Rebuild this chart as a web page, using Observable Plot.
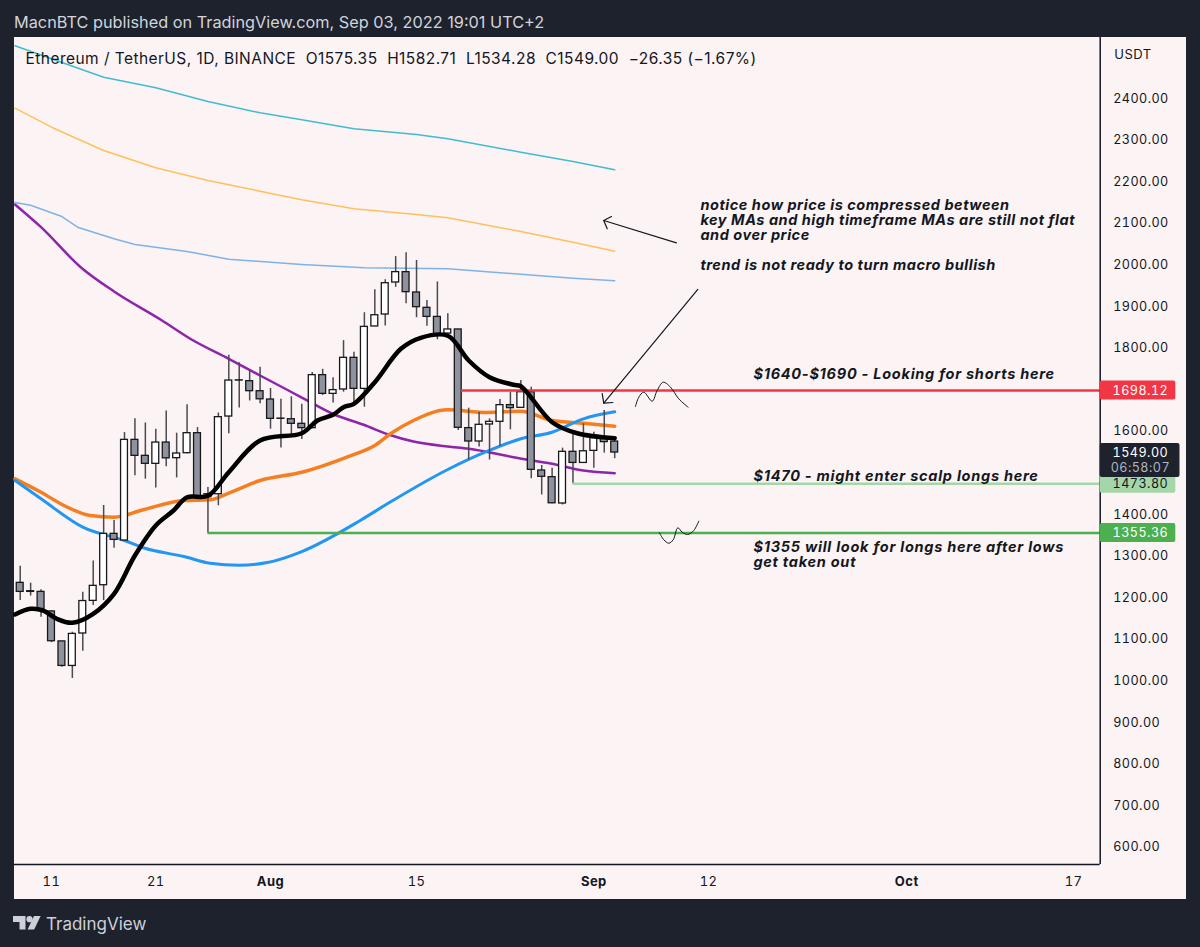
<!DOCTYPE html>
<html><head><meta charset="utf-8">
<script src="https://cdn.jsdelivr.net/npm/d3@7"></script>
<script src="https://cdn.jsdelivr.net/npm/@observablehq/plot@0.6"></script>
<style>
html,body{margin:0;padding:0;background:#1E222D;width:1200px;height:947px;overflow:hidden;font-family:Inter,sans-serif}
#head{height:37px;box-sizing:border-box;padding:14px 0 0 14px;font-size:16.3px;line-height:17px;color:#D1D4DC;white-space:nowrap}
#panel{margin-left:14px;width:1172px;height:862px;background:#FCF3F4}
#panel svg{display:block;background:transparent;overflow:visible}
#panel svg text{letter-spacing:.45px}
#panel svg g[font-size="14.5"] text{letter-spacing:.53px}
#panel svg g[font-size="14.51"] text{letter-spacing:.74px}
#foot{height:48px;position:relative;color:#CDD0D8;font-size:17px}
#foot svg{position:absolute;left:13px;top:17px}
#foot span{position:absolute;left:46px;top:15px}
</style></head><body>
<div id="head">MacnBTC published on TradingView.com, Sep 03, 2022 19:01 UTC+2</div>
<div id="panel"></div>
<div id="foot"><svg width="28" height="14" viewBox="0 0 28 14" fill="#CDD0D8"><path d="M0 0h12.5v13.5h-6v-7.5H0z"/><circle cx="16.5" cy="3.2" r="3.1"/><path d="M21 0h6.6l-6.4 13.5h-6.6z"/></svg><span>TradingView</span></div>
<script>
// Candles, daily from 2022-07-08 to 2022-09-03
const opens  = [1235.7,1215.6,1214,1167,1095,1036,1114,1192.4,1230,1353.5,1337.5,1579.4,1541,1521.8,1573,1535.4,1547.4,1595.5,1441.6,1448.8,1635.5,1722.5,1720.5,1696.4,1676.4,1630.5,1629,1618,1607.6,1735,1690,1700.5,1776.6,1702,1852,1880.8,1957.7,1982.6,1933.7,1896.8,1875,1835,1844.8,1607.6,1575.5,1616.4,1622.8,1662.9,1656.4,1694,1505.8,1489.8,1426.5,1550.7,1524,1553,1583.5,1575.35];
const highs  = [1275.8,1235,1219,1169,1095,1117,1213,1288,1421.6,1385.5,1597,1630,1620,1605,1649,1595.5,1664,1609,1465,1644,1783,1764.5,1746,1754,1703,1677,1683,1665,1741.4,1749,1729,1818,1790,1885,1940,1964,2020,2029,2010.6,1914.5,1959,1882.4,1844.8,1655.6,1646,1630,1676.5,1694,1722,1706,1517.8,1511.4,1559.5,1594,1618,1598,1650,1582.71];
const lows   = [1193,1204,1153,1092,1033,1006,1071,1181,1193,1319,1337,1493,1485,1464,1515,1488,1546,1441,1355.36,1421,1594,1656,1673,1666,1605,1560,1590,1580,1606,1686,1668,1694,1666,1658,1852,1853,1946,1906.5,1873,1852.8,1820,1830,1602,1531.4,1562,1531,1563.5,1603.6,1655.6,1486,1447,1425.7,1423,1473.8,1524,1511.4,1547.5,1534.28];
const closes = [1214,1214,1173,1095.4,1036,1113,1192,1228.5,1353.5,1339,1579.4,1541,1521.8,1573,1535,1546.6,1595.5,1441.6,1448.8,1634,1722,1722,1696.4,1677,1630,1630,1618,1607.6,1735,1690,1699,1776.6,1702,1851,1879,1956,1982.6,1934.5,1898.4,1875,1832,1844.8,1608.4,1575.5,1615.6,1622.8,1662.9,1655.6,1694,1507.4,1490.6,1427,1550.7,1524,1552,1583.5,1574,1549];

// Moving averages: day offset from Jul 11, then price
const ma200Days = [-3.5,0,5,10,15,20,24,29,35,38,45,50,54];
const ma200Teal = [2526.7,2495.4,2451.2,2425.7,2392.8,2365.6,2348.8,2327.2,2313.5,2303.1,2270.9,2248.6,2228.6];
const ma150Gold = [2376.7,2331,2275,2233.4,2203,2177.2,2156.5,2135,2121.2,2113.2,2080.3,2054.6,2033];
const ma100Days = [-3.5,-2,1,2.5,6,8,13,17,24,30,38,45,50,54];
const ma100Sky  = [2150,2143.5,2116.3,2090.6,2062.7,2049,2032.2,2013.7,2001,1993,1990.6,1977.6,1968,1961.8];
const purpleDays = [-3.5,-1,2.8,6,10.6,13.3,17,20,24,27,30,32.3,34.7,38,40,44.3,48,51,54];
const purpleVals = [2145.2,2090.6,1994.5,1936.1,1866.3,1822.4,1774.3,1734.1,1681.2,1641.6,1615.1,1592.3,1575.5,1563.5,1558,1537.7,1521.9,1505.8,1499.3];
const orangeDays = [-3.5,-1,1.2,3.7,6,8.8,12.7,15.2,17,20,24,28.7,31,32.5,34.7,38,41.8,45,48,51,54];
const orangeVals = [1485.8,1453.6,1421.6,1397.6,1393.5,1411.3,1433.7,1435.3,1451.2,1481.7,1501.7,1541.8,1565.9,1594,1626,1651.7,1645.2,1648.3,1626,1619.5,1612.3];
const blueDays = [-3.5,-1,3,7,8.8,12.7,15.2,18,20.7,24,29.6,32.2,38,41.8,45,48,51,54];
const blueVals = [1481.7,1437.7,1369.5,1337.5,1320,1299.1,1283,1278.1,1284.6,1311,1385.6,1425.7,1508.2,1552.2,1582,1597.8,1630,1646.9];
const blackDays = [-3.5,-2,-0.8,0.5,2,4,6,8,10,11.7,13,15,17,20,24,25.5,27,28,29,31,33.5,35.4,38,40,42,44.3,45,48,50.4,54];
const blackVals = [1159.6,1173.3,1169.2,1149.3,1139.7,1161.3,1209.4,1301.4,1373.6,1409.6,1441.6,1445,1501.7,1577.9,1595.4,1626,1639.7,1658,1666.1,1718,1798.3,1824.8,1829.6,1770.2,1730,1711.8,1708.4,1621.9,1595.4,1583.4];

// Levels
const levelPrices = [1698.12,1473.80,1355.36];
const levelStarts = [39.3,50,15];
const levelColors = ["#F23645","#A5D6A7","#4CAF50"];
const levelText   = ["#FFFFFF","#131722","#FFFFFF"];

// Notes
const upperNotes = ["notice how price is compressed between","key MAs and high timeframe MAs are still not flat","and over price","trend is not ready to turn macro bullish"];
const upperPrices = [2142.8,2106.7,2070.7,1998.6];
const lowerNotes = ["$1640-$1690 - Looking for shorts here","$1470 - might enter scalp longs here","$1355 will look for longs here after lows","get taken out"];
const lowerPrices = [1736.5,1492,1320.7,1284.6];

// Hand-drawn marks
const arrowGroups = [
 [[59.92,2053.1],[52.95,2106.7]],
 [[53.69,2116.3],[52.95,2106.7],[53.28,2086.8]],
 [[61.97,1940.9],[52.95,1667.5]],
 [[52.8,1690.9],[52.95,1667.5],[53.82,1669.2]]
];
const squiggles = [
 [[55.99,1659.6],[56.31,1682],[56.79,1694],[57.59,1672.4],[58.07,1698.1],[58.65,1718],[59.35,1706],[60.14,1678.1],[61.04,1658]],
 [[58.29,1356],[58.71,1339.2],[59.19,1331],[59.61,1339.2],[60.05,1368],[60.47,1357.5],[61,1352],[61.58,1361.5],[62.06,1383.9]]
];

// Axis (1500 and 1700 sit under the price tags in the reference)
const priceTicks = [600,700,800,900,1000,1100,1200,1300,1400,1600,1800,1900,2000,2100,2200,2300,2400];
const plainDays = [0,10,35,63,98], plainLabels = ["11","21","15","12","17"];
const monthDays = [21,52,82], monthLabels = ["Aug","Sep","Oct"];
const legendText = "Ethereum / TetherUS, 1D, BINANCE  O1575.35  H1582.71  L1534.28  C1549.00  \u221226.35 (\u22121.67%)";

const base = Date.UTC(2022,6,11);
const T = n => new Date(base + n*864e5);
const xMin = -3.547, xMax = 100.55, tagEnd = 107.8, darkEnd = 108.2, tagMid = 104.4;
const yMin = 558.7, yMax = 2546.6, tagHalf = 22.8;

const candles = opens.map((o,i)=>({n:i-3,o,h:highs[i],l:lows[i],c:closes[i]}));
const line = (days,vals,stroke,strokeWidth,curve="linear") => Plot.line(days.map((n,i)=>({n,p:vals[i]})),{x:d=>T(d.n),y:"p",stroke,strokeWidth,curve});
const levels = levelPrices.map((p,i)=>({p,s:levelStarts[i],c:levelColors[i],t:levelText[i],lab:p.toFixed(2)}));
const ink = g => Plot.line(g.map(([n,p])=>({n,p})),{x:d=>T(d.n),y:"p",stroke:"#131722",strokeWidth:1.2,curve:"linear"});
const tag = {fontSize:12.6,fontVariant:"tabular-nums"};
const note = {text:d=>d,textAnchor:"start",fontStyle:"italic",fontWeight:700,fill:"#131722"};

const chart = Plot.plot({
  width:1172,height:862,marginLeft:0,marginRight:86.3,marginTop:0,marginBottom:35,
  style:{background:"transparent",fontFamily:"Inter, sans-serif",fontSize:"13px",color:"#131722"},
  x:{type:"utc",domain:[T(xMin),T(xMax)]},
  y:{domain:[yMin,yMax]},
  marks:[
    line(ma200Days,ma200Teal,"#41BCCF",1.5),
    line(ma200Days,ma150Gold,"#FFC05C",1.5),
    line(ma100Days,ma100Sky,"#7FB3E6",1.5),
    line(purpleDays,purpleVals,"#8E24AA",2.5,"monotone-x"),
    line(orangeDays,orangeVals,"#F57F20",3.5,"monotone-x"),
    line(blueDays,blueVals,"#2196F3",3,"monotone-x"),
    Plot.ruleX(candles,{x:d=>T(d.n),y1:"l",y2:"h",stroke:"#4A4A4F",strokeWidth:1.5}),
    Plot.rect(candles,{x1:d=>T(d.n-0.33),x2:d=>T(d.n+0.33),y1:"o",y2:"c",fill:d=>d.c<d.o?"#8E929C":"#FFFFFF",stroke:"#17181C",strokeWidth:1.3}),
    Plot.ruleY(levels,{y:"p",x1:d=>T(d.s),x2:T(xMax),stroke:"c",strokeWidth:2.5}),
    line(blackDays,blackVals,"#000000",4.5,"catmull-rom"),
    ...arrowGroups.map(ink),
    ...squiggles.map(g=>Plot.line(g.map(([n,p])=>({n,p})),{x:d=>T(d.n),y:"p",stroke:"#131722",strokeWidth:1,curve:"catmull-rom"})),
    Plot.text(upperNotes,{...note,x:T(62.22),y:(d,i)=>upperPrices[i],fontSize:14.5}),
    Plot.text(lowerNotes,{...note,x:T(67.3),y:(d,i)=>lowerPrices[i],fontSize:14.51}),
    Plot.text([legendText],{x:T(-2.49),y:2493.75,text:d=>d,textAnchor:"start",fontSize:15.5,fill:"#131722"}),
    Plot.ruleX([T(xMax)],{stroke:"#131722",strokeWidth:1.5,y1:yMin,y2:yMax}),
    Plot.ruleY([yMin],{stroke:"#131722",strokeWidth:1.5,x1:T(xMin),x2:T(xMax)}),
    Plot.axisY({anchor:"right",ticks:priceTicks,tickSize:0,tickPadding:13,tickFormat:d3.format(".2f"),label:null,fill:"#131722",fontSize:12.6}),
    Plot.axisX({anchor:"bottom",ticks:plainDays.map(T),tickSize:0,tickPadding:12,tickFormat:(d,i)=>plainLabels[i],label:null,fill:"#131722"}),
    Plot.axisX({anchor:"bottom",ticks:monthDays.map(T),tickSize:0,tickPadding:12,tickFormat:(d,i)=>monthLabels[i],label:null,fontWeight:700,fill:"#131722"}),
    Plot.text(["USDT"],{x:T(101.9),y:2400+(98-54)/0.416,text:d=>d,textAnchor:"start",fill:"#131722"}),
    Plot.rect(levels,{x1:T(xMax),x2:T(tagEnd),y1:d=>d.p-tagHalf,y2:d=>d.p+tagHalf,fill:"c",rx:2}),
    Plot.text(levels,{x:T(tagMid),y:"p",text:"lab",fill:"t",...tag}),
    Plot.rect([0],{x1:T(xMax),x2:T(darkEnd),y1:1489,y2:1570.7,fill:"#1E222D",rx:2}),
    Plot.text(["1549.00"],{x:T(tagMid),y:1548,text:d=>d,fill:"#FFFFFF",...tag}),
    Plot.text(["06:58:07"],{x:T(tagMid),y:1512,text:d=>d,fill:"#B2B5BE",...tag})
  ]
});
document.getElementById("panel").append(chart);
</script>
</body></html>
